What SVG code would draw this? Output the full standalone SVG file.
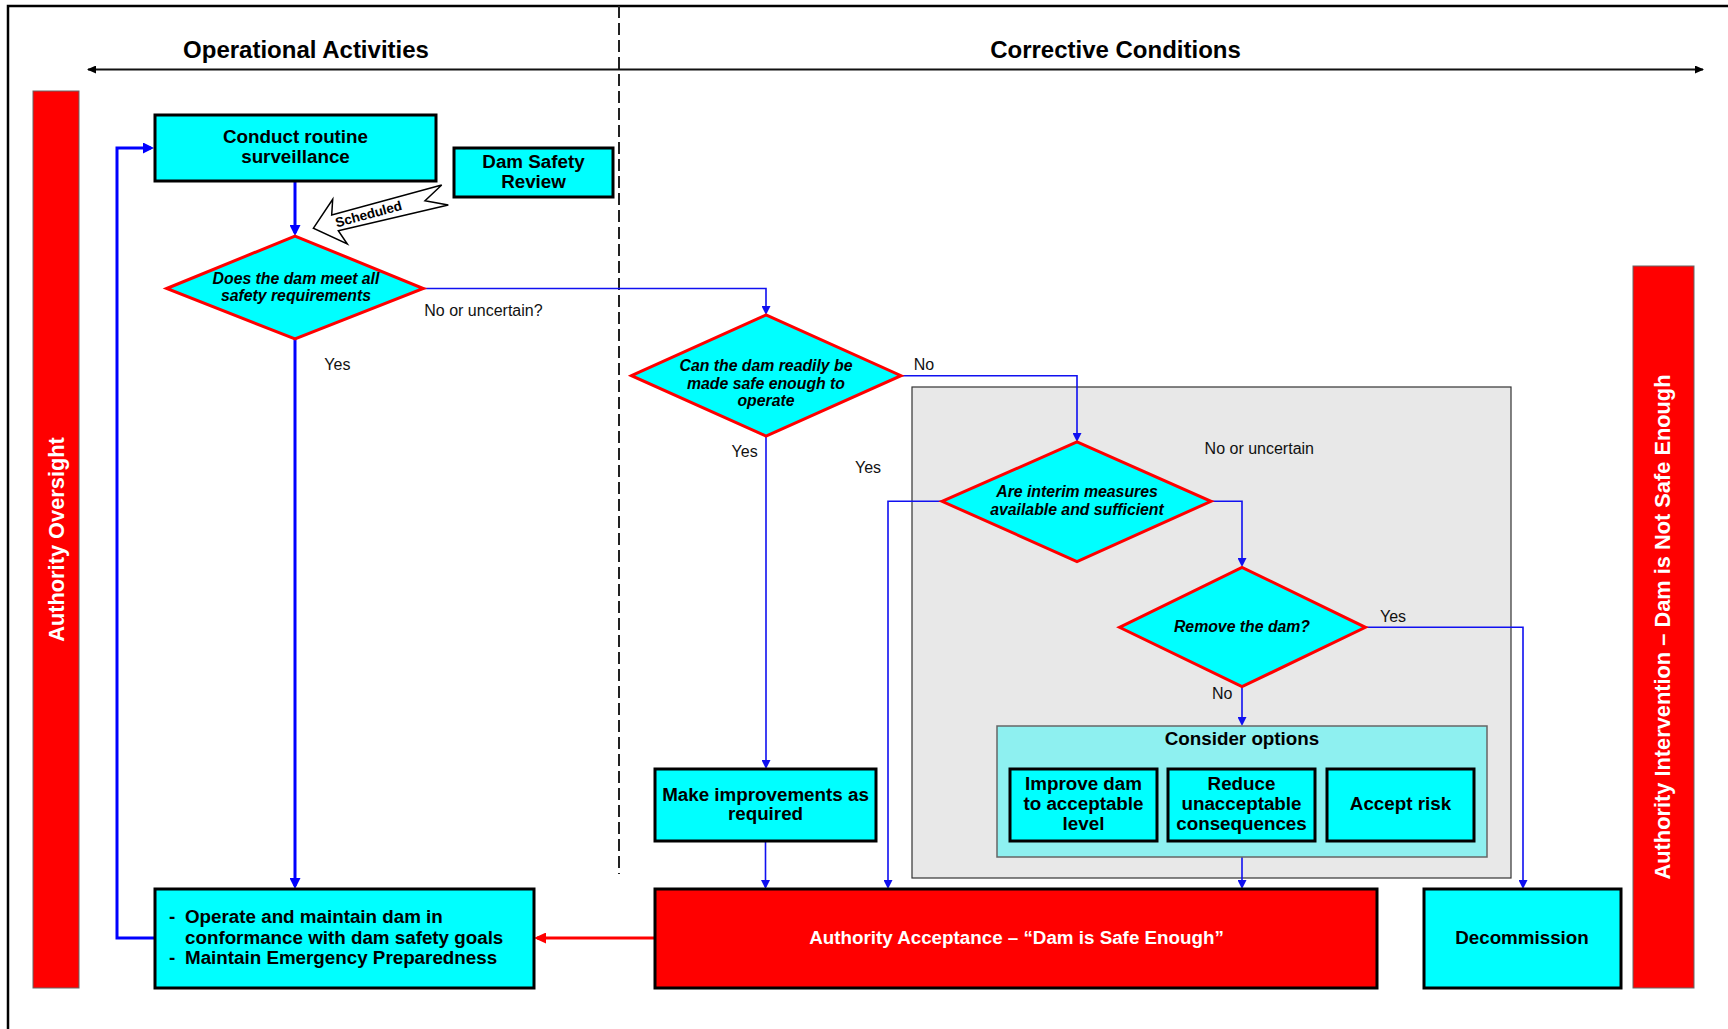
<svg xmlns="http://www.w3.org/2000/svg" width="1728" height="1029" viewBox="0 0 1728 1029">
  <defs>
    <style>
      text { font-family: "Liberation Sans", Arial, sans-serif; fill: #000; }
      .title { font-size: 24px; font-weight: bold; text-anchor: middle; }
      .box { fill: #00FFFF; stroke: #000; stroke-width: 3; }
      .redbox { fill: #FF0000; stroke: #000; stroke-width: 3; }
      .bar { fill: #FF0000; stroke: #666; stroke-width: 1; }
      .dia { fill: #00FFFF; stroke: #FF0000; stroke-width: 3; stroke-linejoin: miter; }
      .bt { font-size: 18.8px; font-weight: bold; text-anchor: middle; }
      .dt { font-size: 15.8px; font-weight: bold; font-style: italic; text-anchor: middle; }
      .lbl { font-size: 16px; fill: #111; }
      .white { fill: #FFFFFF; }
      .bartext { font-size: 21.8px; font-weight: bold; text-anchor: middle; fill: #FFFFFF; }
      .thick { fill: none; stroke: #0000FF; stroke-width: 3; marker-end: url(#ah-thick); }
      .thin { fill: none; stroke: #1010F0; stroke-width: 1.6; marker-end: url(#ah-thin); }
      .red { fill: none; stroke: #FF0000; stroke-width: 3; marker-end: url(#ah-red); }
    </style>
    <marker id="ah-thick" markerUnits="userSpaceOnUse" markerWidth="11" markerHeight="11" viewBox="0 0 11 11" refX="8" refY="5.5" orient="auto">
      <path d="M0,0 L11,5.5 L0,11 z" fill="#0000FF"/>
    </marker>
    <marker id="ah-thin" markerUnits="userSpaceOnUse" markerWidth="9" markerHeight="9" viewBox="0 0 9 9" refX="7" refY="4.5" orient="auto">
      <path d="M0,0 L9,4.5 L0,9 z" fill="#1010F0"/>
    </marker>
    <marker id="ah-red" markerUnits="userSpaceOnUse" markerWidth="12" markerHeight="11" viewBox="0 0 12 11" refX="9" refY="5.5" orient="auto">
      <path d="M0,0 L12,5.5 L0,11 z" fill="#FF0000"/>
    </marker>
    <marker id="ah-black" markerUnits="userSpaceOnUse" markerWidth="9" markerHeight="8" viewBox="0 0 9 8" refX="8" refY="4" orient="auto-start-reverse">
      <path d="M0,0 L9,4 L0,8 z" fill="#000"/>
    </marker>
  </defs>

  <rect x="0" y="0" width="1728" height="1029" fill="#FFFFFF"/>

  <!-- page frame -->
  <path d="M8,1029 V6 H1728" fill="none" stroke="#000" stroke-width="2.5"/>

  <!-- divider between the two zones -->
  <line x1="619" y1="6" x2="619" y2="874" stroke="#222" stroke-width="2" stroke-dasharray="12 5"/>

  <!-- zone headings and span arrow -->
  <g id="zone-headings">
    <text class="title" x="306" y="58">Operational Activities</text>
    <text class="title" x="1115.5" y="58">Corrective Conditions</text>
    <line x1="88" y1="69.5" x2="1703" y2="69.5" stroke="#111" stroke-width="1.8" marker-start="url(#ah-black)" marker-end="url(#ah-black)"/>
  </g>

  <!-- side bars -->
  <g id="authority-oversight">
    <rect class="bar" x="33" y="91" width="46" height="897"/>
    <text class="bartext" transform="translate(64,539.5) rotate(-90)" x="0" y="0">Authority Oversight</text>
  </g>
  <g id="authority-intervention">
    <rect class="bar" x="1633" y="266" width="61" height="722"/>
    <text class="bartext" transform="translate(1670,627) rotate(-90)" x="0" y="0">Authority Intervention – Dam is Not Safe Enough</text>
  </g>

  <!-- corrective-conditions panel -->
  <g id="interim-panel">
    <rect x="912" y="387" width="599" height="491" fill="#E8E8E8" stroke="#333" stroke-width="1.2"/>
  </g>

  <!-- connectors -->
  <g id="connectors">
    <path class="thick" d="M295,181.5 V233"/>
    <path class="thick" d="M295,339 V886"/>
    <path class="thick" d="M155,938 H117 V148 H151"/>
    <path class="thin" d="M423,288.5 H766 V313"/>
    <path class="thin" d="M766,436 V767"/>
    <path class="thin" d="M901,375.7 H1077 V440"/>
    <path class="thin" d="M942,501.3 H888 V887"/>
    <path class="thin" d="M1211,501.3 H1242 V565"/>
    <path class="thin" d="M1242,687 V724"/>
    <path class="thin" d="M1365,627.3 H1523 V887"/>
    <path class="thin" d="M765.5,841 V887"/>
    <path class="thin" d="M1242,857 V887"/>
    <path class="red" d="M655,938 H537"/>
  </g>

  <!-- connector labels -->
  <g id="labels">
    <text class="lbl" x="424.3" y="315.7">No or uncertain?</text>
    <text class="lbl" x="324.3" y="370">Yes</text>
    <text class="lbl" x="913.8" y="370">No</text>
    <text class="lbl" x="731.6" y="456.7">Yes</text>
    <text class="lbl" x="855" y="472.7">Yes</text>
    <text class="lbl" x="1204.6" y="454">No or uncertain</text>
    <text class="lbl" x="1380" y="621.7">Yes</text>
    <text class="lbl" x="1212" y="699">No</text>
  </g>

  <!-- nodes -->
  <g id="surveillance">
    <rect class="box" x="155" y="115" width="281" height="66"/>
    <text class="bt" x="295.5" y="143.3">Conduct routine</text>
    <text class="bt" x="295.5" y="163.3">surveillance</text>
  </g>

  <g id="dam-safety-review">
    <rect class="box" x="454" y="148" width="159" height="49"/>
    <text class="bt" x="533.5" y="168.3">Dam Safety</text>
    <text class="bt" x="533.5" y="188.3">Review</text>
  </g>

  <g id="scheduled">
    <polygon points="313.3,228.3 332.7,199.3 331.7,215 441.7,185 425,200.7 448.3,205 338.3,230.7 347.3,244" fill="#FFFFFF" stroke="#000" stroke-width="1.5" stroke-linejoin="miter"/>
    <text transform="translate(368.5,214) rotate(-15)" x="0" y="4.7" font-size="13.5" font-weight="bold" text-anchor="middle">Scheduled</text>
  </g>

  <g id="meets-requirements">
    <polygon class="dia" points="166.7,288.5 295,236 423.3,288.5 295,339"/>
    <text class="dt" x="296" y="283.5">Does the dam meet all</text>
    <text class="dt" x="296" y="300.5">safety requirements</text>
  </g>

  <g id="readily-safe">
    <polygon class="dia" points="631.5,375.7 766,315 901,375.7 766,436"/>
    <text class="dt" x="766" y="371">Can the dam readily be</text>
    <text class="dt" x="766" y="388.5">made safe enough to</text>
    <text class="dt" x="766" y="405.5">operate</text>
  </g>

  <g id="interim-measures">
    <polygon class="dia" points="942,501.3 1077,442 1211,501.3 1077,561.5"/>
    <text class="dt" x="1077" y="497">Are interim measures</text>
    <text class="dt" x="1077" y="515">available and sufficient</text>
  </g>

  <g id="remove-dam">
    <polygon class="dia" points="1119.5,627.3 1242,567.3 1365.4,627.3 1242,686.7"/>
    <text class="dt" x="1242" y="631.7">Remove the dam?</text>
  </g>

  <g id="consider-options">
    <rect x="997" y="726" width="490" height="131" fill="#8EF0F0" stroke="#666" stroke-width="1.5"/>
    <text class="bt" x="1242" y="745">Consider options</text>
    <g id="improve-dam">
      <rect class="box" x="1010" y="769" width="147" height="72"/>
      <text class="bt" x="1083.5" y="790">Improve dam</text>
      <text class="bt" x="1083.5" y="810">to acceptable</text>
      <text class="bt" x="1083.5" y="830">level</text>
    </g>
    <g id="reduce-consequences">
      <rect class="box" x="1168" y="769" width="147" height="72"/>
      <text class="bt" x="1241.5" y="790">Reduce</text>
      <text class="bt" x="1241.5" y="810">unacceptable</text>
      <text class="bt" x="1241.5" y="830">consequences</text>
    </g>
    <g id="accept-risk">
      <rect class="box" x="1327" y="769" width="147" height="72"/>
      <text class="bt" x="1400.5" y="810">Accept risk</text>
    </g>
  </g>

  <g id="make-improvements">
    <rect class="box" x="655" y="769" width="221" height="72"/>
    <text class="bt" x="765.5" y="800.5">Make improvements as</text>
    <text class="bt" x="765.5" y="820">required</text>
  </g>

  <g id="operate-maintain">
    <rect class="box" x="155" y="889" width="379" height="99"/>
    <text class="bt" style="text-anchor:start" x="169" y="923.3">-</text>
    <text class="bt" style="text-anchor:start" x="185" y="923.3">Operate and maintain dam in</text>
    <text class="bt" style="text-anchor:start" x="185" y="943.5">conformance with dam safety goals</text>
    <text class="bt" style="text-anchor:start" x="169" y="964">-</text>
    <text class="bt" style="text-anchor:start" x="185" y="964">Maintain Emergency Preparedness</text>
  </g>

  <g id="authority-acceptance">
    <rect class="redbox" x="655" y="889" width="722" height="99"/>
    <text class="bt white" x="1016.5" y="944">Authority Acceptance – “Dam is Safe Enough”</text>
  </g>

  <g id="decommission">
    <rect class="box" x="1424" y="889" width="197" height="99"/>
    <text class="bt" x="1522" y="944">Decommission</text>
  </g>
</svg>
